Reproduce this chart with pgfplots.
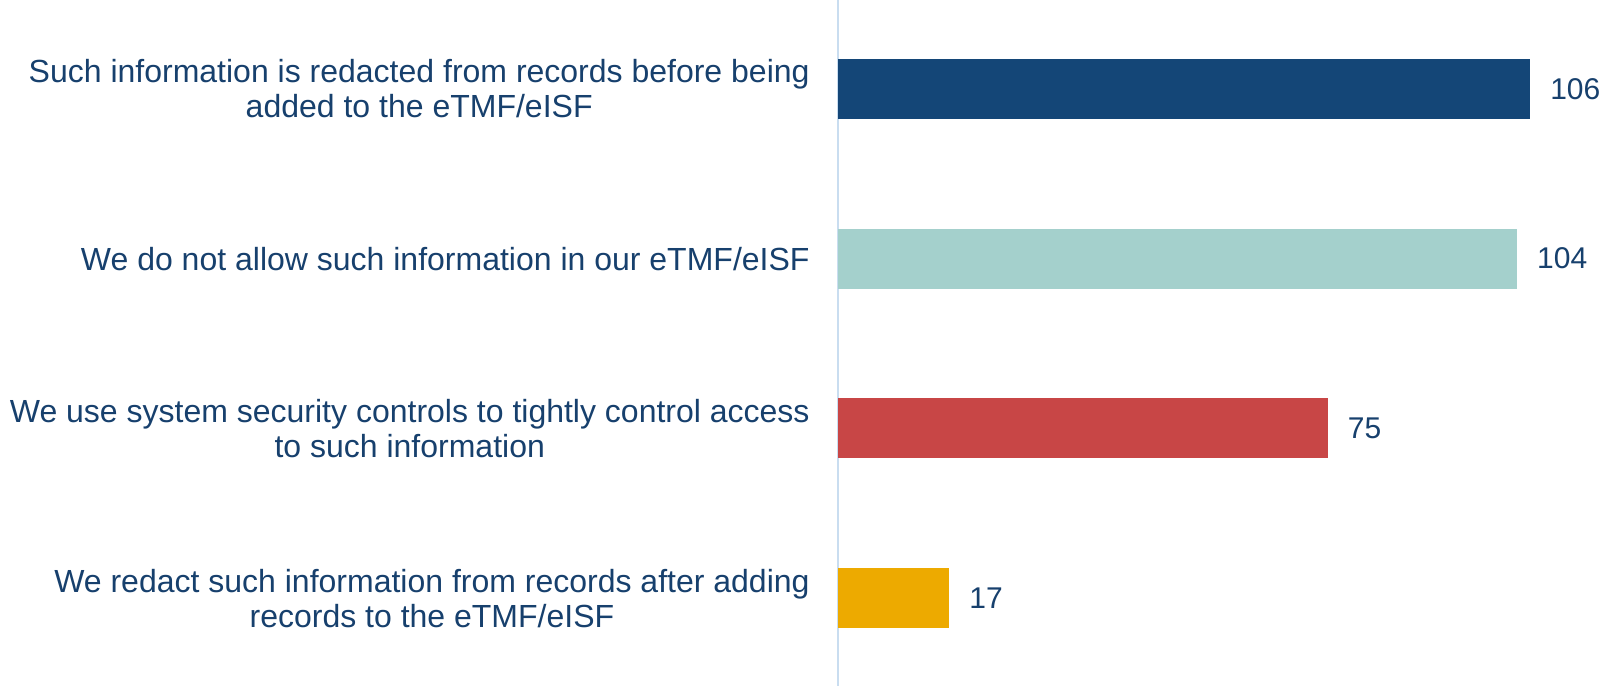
\documentclass[border=0pt]{standalone}
\usepackage{pgfplots}
\pgfplotsset{compat=1.18}
\usepackage{fontspec}
\setmainfont{Liberation Sans}
\definecolor{txt}{HTML}{17406D}
\definecolor{axl}{HTML}{C9DDF0}
\definecolor{c1}{HTML}{144677}
\definecolor{c2}{HTML}{A4D0CC}
\definecolor{c3}{HTML}{C84646}
\definecolor{c4}{HTML}{EDAA00}
\begin{document}
\begin{tikzpicture}
\begin{axis}[name=ax, scale only axis, width=390bp, height=343bp,
  xmin=0, xmax=119.5, ymin=0.482, ymax=4.524,
  xbar, bar width=30bp, bar shift=0pt,
  axis x line=none, axis y line*=left,
  y axis line style={draw=axl, line width=0.9bp},
  ytick={1,2,3,4},
  yticklabels={{We redact such information from records after adding\\records to the eTMF/eISF},
               {We use system security controls to tightly control access\\to such information},
               {We do not allow such information in our eTMF/eISF},
               {Such information is redacted from records before being\\added to the eTMF/eISF}},
  major tick length=0pt,
  yticklabel style={font=\fontsize{16bp}{17.5bp}\selectfont, text=txt, align=center, inner sep=0pt, xshift=-14bp},
  nodes near coords, point meta=x,
  /pgf/number format/assume math mode=true,
  nodes near coords style={font=\fontsize{15bp}{17bp}\selectfont, text=txt, anchor=west, inner sep=0pt, xshift=10bp},
  clip=false]
\addplot[fill=c1, draw=none] coordinates {(106,4)};
\addplot[fill=c2, draw=none] coordinates {(104,3)};
\addplot[fill=c3, draw=none] coordinates {(75,2)};
\addplot[fill=c4, draw=none] coordinates {(17,1)};
\end{axis}
\pgfresetboundingbox
\path ([xshift=-419bp]ax.south west) rectangle (ax.north east);
\end{tikzpicture}
\end{document}
